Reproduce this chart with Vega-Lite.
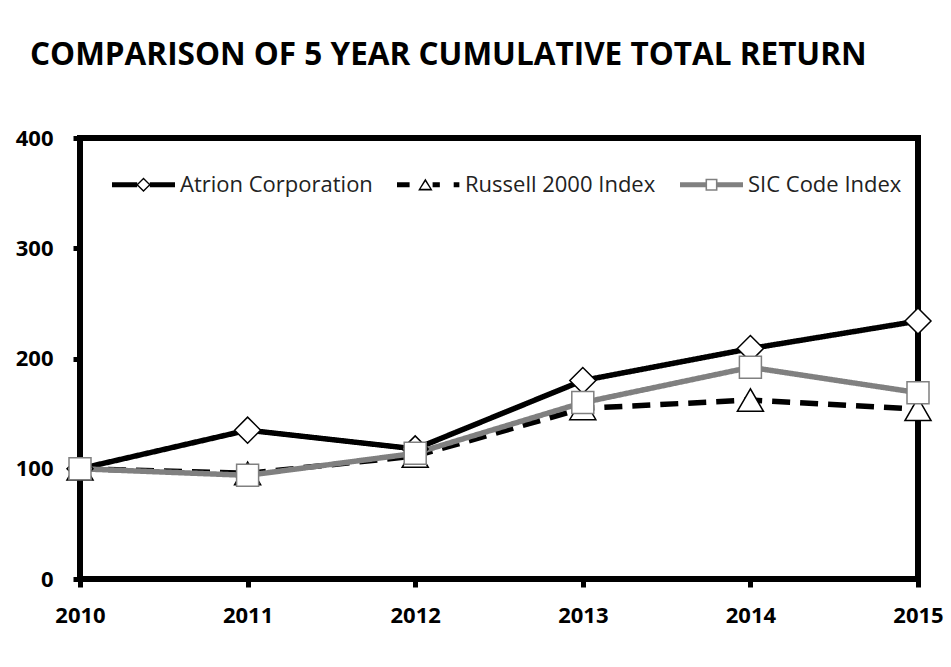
{
  "$schema": "https://vega.github.io/schema/vega-lite/v6.json",
  "width": 838,
  "height": 441,
  "autosize": {"type": "none"},
  "padding": {"left": 80, "top": 138, "right": 33, "bottom": 88},
  "background": "white",
  "title": {
    "text": "COMPARISON OF 5 YEAR CUMULATIVE TOTAL RETURN",
    "anchor": "start",
    "frame": "group",
    "dx": -50,
    "offset": 31,
    "baseline": "alphabetic",
    "font": "Open Sans",
    "fontSize": 31.5,
    "fontWeight": "bold",
    "color": "black"
  },
  "config": {
    "view": {"stroke": "black", "strokeWidth": 6},
    "axis": {
      "domain": false,
      "grid": false,
      "title": null,
      "tickColor": "black",
      "tickWidth": 5,
      "labelFont": "Open Sans",
      "labelFontSize": 22,
      "labelFontWeight": "bold",
      "labelColor": "black"
    }
  },
  "data": {
    "values": [
      {"year": "2010", "series": "Atrion Corporation", "value": 100},
      {"year": "2011", "series": "Atrion Corporation", "value": 135},
      {"year": "2012", "series": "Atrion Corporation", "value": 118},
      {"year": "2013", "series": "Atrion Corporation", "value": 180},
      {"year": "2014", "series": "Atrion Corporation", "value": 209},
      {"year": "2015", "series": "Atrion Corporation", "value": 234},
      {"year": "2010", "series": "Russell 2000 Index", "value": 100},
      {"year": "2011", "series": "Russell 2000 Index", "value": 95.8},
      {"year": "2012", "series": "Russell 2000 Index", "value": 111.5},
      {"year": "2013", "series": "Russell 2000 Index", "value": 154.8},
      {"year": "2014", "series": "Russell 2000 Index", "value": 162.3},
      {"year": "2015", "series": "Russell 2000 Index", "value": 154},
      {"year": "2010", "series": "SIC Code Index", "value": 100},
      {"year": "2011", "series": "SIC Code Index", "value": 94},
      {"year": "2012", "series": "SIC Code Index", "value": 114},
      {"year": "2013", "series": "SIC Code Index", "value": 160},
      {"year": "2014", "series": "SIC Code Index", "value": 192},
      {"year": "2015", "series": "SIC Code Index", "value": 169}
    ]
  },
  "encoding": {
    "x": {
      "field": "year",
      "type": "ordinal",
      "scale": {"type": "point", "padding": 0},
      "axis": {"labelAngle": 0, "tickSize": 8, "labelPadding": 18}
    },
    "y": {
      "field": "value",
      "type": "quantitative",
      "scale": {"domain": [0, 400]},
      "axis": {"values": [0, 100, 200, 300, 400], "tickSize": 7, "labelPadding": 20}
    }
  },
  "layer": [
    {
      "mark": {"type": "line", "strokeWidth": 5.5},
      "encoding": {
        "color": {
          "field": "series",
          "type": "nominal",
          "scale": {
            "domain": ["Atrion Corporation", "Russell 2000 Index", "SIC Code Index"],
            "range": ["black", "black", "#808080"]
          },
          "legend": {
            "orient": "none",
            "legendX": 32,
            "legendY": 15,
            "direction": "horizontal",
            "title": null,
            "labelFont": "Open Sans",
            "labelFontSize": 22,
            "labelColor": "#222222",
            "labelLimit": 400,
            "labelOffset": 5,
            "columnPadding": 24,
            "symbolSize": 3969,
            "symbolStrokeWidth": 0,
            "encode": {
              "symbols": {
                "update": {
                  "shape": {"signal": "datum.value === 'Atrion Corporation' ? 'M-1,-0.08H-0.2V0.08H-1Z M0.2,-0.08H1V0.08H0.2Z M0,-0.23L0.23,0L0,0.23L-0.23,0Z M0,-0.17L-0.17,0L0,0.17L0.17,0Z' : datum.value === 'Russell 2000 Index' ? 'M-1,-0.08H-0.6V0.08H-1Z M-0.1,-0.2L0.13,0.18L-0.33,0.18Z M-0.1,-0.1L-0.25,0.13L0.05,0.13Z M0.13,-0.08H0.36V0.08H0.13Z M0.8,-0.08H0.98V0.08H0.8Z' : 'M-1,-0.08H-0.19V0.08H-1Z M0.19,-0.08H1V0.08H0.19Z M-0.19,-0.19H0.19V0.19H-0.19Z M-0.14,-0.14V0.14H0.14V-0.14Z'"},
                  "size": {"value": 3969},
                  "fill": {"signal": "datum.value === 'SIC Code Index' ? '#808080' : 'black'"},
                  "stroke": {"value": "transparent"},
                  "strokeWidth": {"value": 0},
                  "strokeDash": {"value": []},
                  "opacity": {"value": 1}
                }
              }
            }
          }
        },
        "strokeDash": {
          "field": "series",
          "type": "nominal",
          "scale": {
            "domain": ["Atrion Corporation", "Russell 2000 Index", "SIC Code Index"],
            "range": [[1, 0], [18, 10], [1, 0]]
          },
          "legend": null
        }
      }
    },
    {
      "transform": [{"filter": "datum.series === 'Atrion Corporation'"}],
      "mark": {"type": "point", "shape": "diamond", "size": 676, "filled": true, "fill": "white", "stroke": "black", "strokeWidth": 1.5, "opacity": 1}
    },
    {
      "transform": [{"filter": "datum.series === 'Russell 2000 Index'"}],
      "mark": {"type": "point", "shape": "triangle-up", "size": 680, "filled": true, "fill": "white", "stroke": "black", "strokeWidth": 1.5, "opacity": 1}
    },
    {
      "transform": [{"filter": "datum.series === 'SIC Code Index'"}],
      "mark": {"type": "point", "shape": "square", "size": 484, "filled": true, "fill": "white", "stroke": "#808080", "strokeWidth": 1.5, "opacity": 1}
    }
  ]
}
